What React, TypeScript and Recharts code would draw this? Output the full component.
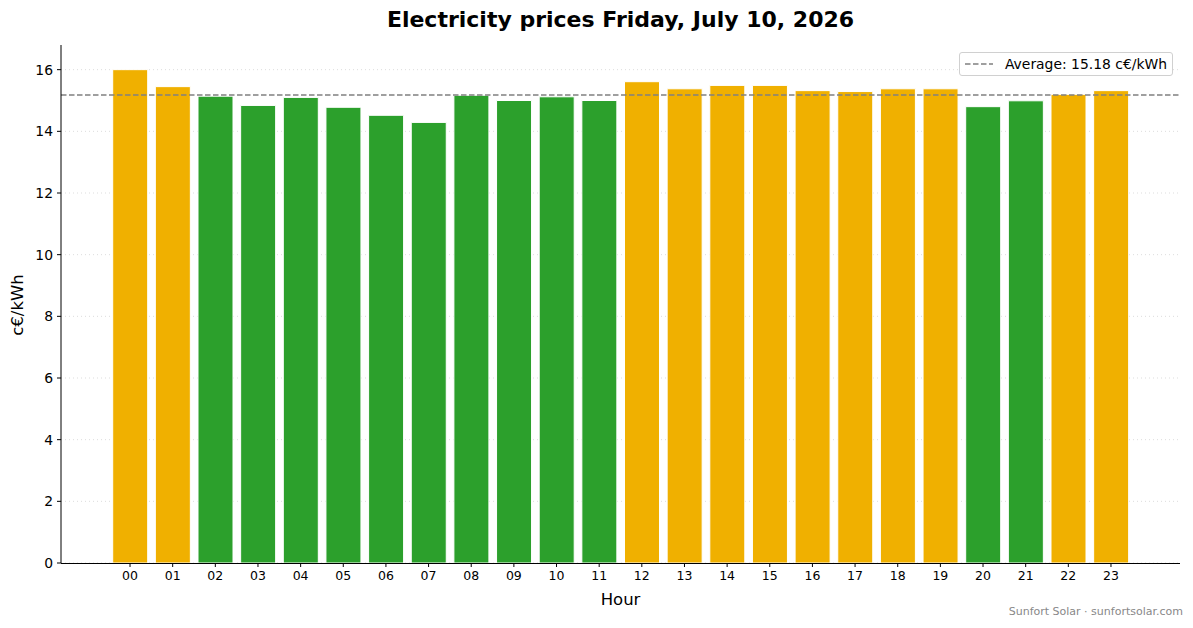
import React from 'react';
import { BarChart, Bar, XAxis, YAxis, CartesianGrid, ReferenceLine, Cell } from 'recharts';

const hours = ['00', '01', '02', '03', '04', '05', '06', '07', '08', '09', '10', '11',
  '12', '13', '14', '15', '16', '17', '18', '19', '20', '21', '22', '23'];
const prices = [16.0, 15.45, 15.14, 14.84, 15.1, 14.78, 14.52, 14.29, 15.17, 15.0, 15.12, 15.0,
  15.61, 15.38, 15.49, 15.49, 15.32, 15.29, 15.38, 15.38, 14.8, 14.99, 15.2, 15.32];
const average = 15.18;
const yTicks = [0, 2, 4, 6, 8, 10, 12, 14, 16];

const ORANGE = '#F0B000';
const GREEN = '#2CA02C';
const FONT = '"DejaVu Sans", sans-serif';

const data = hours.map((h, i) => ({ hour: h, price: prices[i] }));

// plot area in the reference: x 61..1180, y 45..563
const AverageLegend = () => (
  <div
    style={{
      position: 'absolute',
      right: 20,
      top: 52,
      display: 'flex',
      alignItems: 'center',
      border: '1px solid #d0d0d0',
      borderRadius: 3,
      background: 'rgba(255,255,255,0.85)',
      padding: '3px 5px 3px 5px',
      fontSize: 13.9,
      fontFamily: FONT,
      color: '#000',
      whiteSpace: 'nowrap',
    }}
  >
    <svg width={28} height={10} style={{ marginRight: 12 }}>
      <line x1={0} y1={5} x2={28} y2={5} stroke="#808080" strokeWidth={1.5} strokeDasharray="5.5 2.5" />
    </svg>
    <span>Average: {average.toFixed(2)} c€/kWh</span>
  </div>
);

const App: React.FC = () => {
  return (
    <div style={{ position: 'absolute', left: 0, top: 0, width: 1193, height: 628, background: '#fff', fontFamily: FONT }}>
      <div
        style={{
          position: 'absolute', left: 61, width: 1119, top: 6, textAlign: 'center',
          fontSize: 22, fontWeight: 'bold', color: '#000', lineHeight: '28px',
        }}
      >
        Electricity prices Friday, July 10, 2026
      </div>
      <BarChart
        width={1193}
        height={628}
        data={data}
        margin={{ top: 45, right: 13, left: 11, bottom: 35 }}
      >
        <CartesianGrid vertical={false} stroke="#dddddd" strokeDasharray="1 3" horizontalValues={yTicks} />
        <XAxis
          dataKey="hour"
          padding={{ left: 47.7, right: 47.7 }}
          interval={0}
          height={30}
          axisLine={false}
          tickLine={{ stroke: '#000' }}
          tickSize={4}
          tickMargin={4}
          tick={{ fontSize: 12.5, fill: '#000', fontFamily: FONT }}
        />
        <YAxis
          type="number"
          domain={[0, 16.8]}
          ticks={yTicks}
          width={50}
          stroke="#000"
          tickSize={4}
          tickMargin={4}
          tick={{ fontSize: 13.9, fill: '#000', fontFamily: FONT }}
          allowDataOverflow
        />
        <ReferenceLine y={average} stroke="#808080" strokeWidth={1.5} strokeDasharray="5.5 2.5" />
        <Bar dataKey="price" barSize={35} stroke="#ffffff" strokeWidth={1} isAnimationActive={false}>
          {data.map((d) => (
            <Cell key={d.hour} fill={d.price > average ? ORANGE : GREEN} />
          ))}
        </Bar>
      </BarChart>
      {/* bottom spine */}
      <div style={{ position: 'absolute', left: 61, top: 562.5, width: 1119, height: 1, background: '#000' }} />
      <AverageLegend />
      <div
        style={{
          position: 'absolute', left: 61, width: 1119, top: 589, textAlign: 'center',
          fontSize: 16.5, color: '#000', lineHeight: '22px',
        }}
      >
        Hour
      </div>
      <div
        style={{
          position: 'absolute', left: 18, top: 305, transform: 'translate(-50%, -50%) rotate(-90deg)',
          fontSize: 16.5, color: '#000', whiteSpace: 'nowrap', lineHeight: '22px',
        }}
      >
        c€/kWh
      </div>
      <div
        style={{
          position: 'absolute', right: 10, top: 605, fontSize: 11, color: '#888888', whiteSpace: 'nowrap',
        }}
      >
        Sunfort Solar · sunfortsolar.com
      </div>
    </div>
  );
};

export default App;
